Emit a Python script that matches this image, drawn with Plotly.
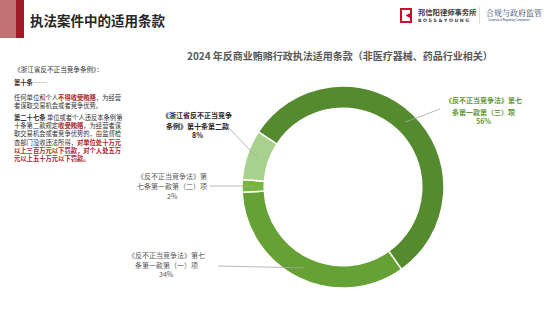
import math
import plotly.graph_objects as go

W, H = 554, 312

# ---------------- data ----------------
labels = [
    "《反不正当竞争法》第七条第一款第（三）项",
    "《反不正当竞争法》第七条第一款第（一）项",
    "《反不正当竞争法》第七条第一款第（二）项",
    "《浙江省反不正当竞争条例》第十条第二款",
]
values = [56, 34, 2, 8]
colors = ["#558B2F", "#65A134", "#76B640", "#A9D18E"]
label_lines = [
    ["《反不正当竞争法》第七", "条第一款第（三）项"],
    ["《反不正当竞争法》第七", "条第一款第（一）项"],
    ["《反不正当竞争法》第", "七条第一款第（二）项"],
    ["《浙江省反不正当竞争", "条例》第十条第二款"],
]
page_title = "执法案件中的适用条款"
chart_title = "2024 年反商业贿赂行政执法适用条款（非医疗器械、药品行业相关）"

FONT = "Noto Sans CJK SC"
RED = "#A81E2C"


def px(x):
    return x / W


def py(y):
    return 1 - y / H


# pie geometry (pixels)
cx, cy, R = 343, 187, 101
hole = 0.78
rotation = 303

fig = go.Figure()
fig.add_trace(go.Pie(
    labels=labels, values=values, sort=False, direction="clockwise",
    rotation=rotation, hole=hole, textinfo="none", hoverinfo="label+percent",
    marker=dict(colors=colors, line=dict(color="white", width=1.5)),
    domain=dict(x=[px(cx - R), px(cx + R)], y=[py(cy + R), py(cy - R)]),
    showlegend=False,
))

annotations = []
shapes = []

# ---------------- leader lines and labels, computed from the data ----------------
total = sum(values)
label_pos = [
    dict(x=483, y=100, ex=440, ey=109, color="#5E9A35", bold=True, dy=[0, 11.5, 21]),
    dict(x=166, y=255, ex=218, ey=266, color="#595959", bold=False, dy=[0, 10, 19.4]),
    dict(x=172, y=176, ex=210, ey=186, color="#595959", bold=False, dy=[0, 10, 20]),
    dict(x=197, y=115, ex=228, ey=127, color="#262626", bold=True, dy=[0, 11, 20.4]),
]
start = rotation
rmid = R * (1 + hole) / 2
for v, lines, lp in zip(values, label_lines, label_pos):
    span = v / total * 360
    mid = math.radians(start + span / 2)
    start += span
    mx = cx + rmid * math.sin(mid)
    my = cy - rmid * math.cos(mid)
    shapes.append(dict(type="line", xref="paper", yref="paper",
                       x0=px(mx), y0=py(my), x1=px(lp["ex"]), y1=py(lp["ey"]),
                       line=dict(color="#A6A6A6", width=0.8)))
    texts = lines + [f"{round(v / total * 100)}%"]
    for t, d in zip(texts, lp["dy"]):
        s = f"<b>{t}</b>" if lp["bold"] else t
        annotations.append(dict(x=px(lp["x"]), y=py(lp["y"] + d), xref="paper", yref="paper",
                                text=s, showarrow=False, xanchor="center", yanchor="middle",
                                font=dict(family=FONT, size=7, color=lp["color"])))

# ---------------- header ----------------
shapes.append(dict(type="rect", xref="paper", yref="paper", x0=0, x1=px(16), y0=py(38), y1=1,
                   fillcolor="#C27272", line=dict(width=0), layer="below"))
shapes.append(dict(type="rect", xref="paper", yref="paper", x0=px(16), x1=px(24), y0=py(38), y1=1,
                   fillcolor="#9E1B27", line=dict(width=0), layer="below"))
annotations.append(dict(x=px(28), y=py(20), xref="paper", yref="paper", text=f"<b>{page_title}</b>",
                        showarrow=False, xanchor="left", yanchor="middle",
                        font=dict(family=FONT, size=13.5, color="#262626")))

# logo
shapes.append(dict(type="rect", xref="paper", yref="paper", x0=px(400), x1=px(412), y0=py(23), y1=py(8),
                   fillcolor="#C8102E", line=dict(width=0)))
shapes.append(dict(type="path", xref="paper", yref="paper",
                   path=f"M {px(402)},{py(10)} L {px(410)},{py(10)} L {px(410)},{py(13)} L {px(405.5)},{py(15.5)} "
                        f"L {px(410)},{py(18)} L {px(410)},{py(21)} L {px(402)},{py(21)} Z",
                   fillcolor="white", line=dict(width=0)))
annotations.append(dict(x=px(416), y=py(12), xref="paper", yref="paper", text="<b>邦信阳律师事务所</b>",
                        showarrow=False, xanchor="left", yanchor="middle",
                        font=dict(family=FONT, size=7.3, color="#3A3A3A")))
annotations.append(dict(x=px(416), y=py(20), xref="paper", yref="paper", text="<b>B O S S & Y O U N G</b>",
                        showarrow=False, xanchor="left", yanchor="middle",
                        font=dict(family="DejaVu Sans", size=4.6, color="#3A3A3A")))
shapes.append(dict(type="line", xref="paper", yref="paper", x0=px(479.5), x1=px(479.5), y0=py(24), y1=py(7),
                   line=dict(color="#C8C8C8", width=0.6)))
annotations.append(dict(x=px(484), y=py(13), xref="paper", yref="paper", text="合规与政府监管",
                        showarrow=False, xanchor="left", yanchor="middle",
                        font=dict(family="Noto Serif CJK SC, Noto Sans CJK SC", size=8, color="#2B3A67")))
annotations.append(dict(x=px(486), y=py(20), xref="paper", yref="paper",
                        text="Corporate & Regulatory Compliance",
                        showarrow=False, xanchor="left", yanchor="middle",
                        font=dict(family="Liberation Sans Narrow, Liberation Sans", size=2.6, color="#2B3A67")))

# chart title
annotations.append(dict(x=px(340), y=py(55), xref="paper", yref="paper", text=f"<b>{chart_title}</b>",
                        showarrow=False, xanchor="center", yanchor="middle",
                        font=dict(family=FONT, size=10, color="#595959")))

# ---------------- left text block ----------------
def red(t):
    return f"<span style='color:{RED}'><b>{t}</b></span>"

left_blocks = [
    (["《浙江省反不正当竞争条例》："], 69, 6.6),
    (["<b>第十条</b> ……"], 83, 6.3),
    (["任何单位和个人" + red("不得收受贿赂") + "，为经营",
      "者谋取交易机会或者竞争优势。"], 97.5, 6.3),
    (["<b>第二十七条</b> 单位或者个人违反本条例第",
      "十条第二款规定" + red("收受贿赂") + "，为经营者谋",
      "取交易机会或者竞争优势的，由监督检",
      "查部门没收违法所得，" + red("对单位处十万元"),
      red("以上三百万元以下罚款，对个人处五万"),
      red("元以上五十万元以下罚款。")], 118, 6.3),
]
for lines, y0, s in left_blocks:
    n = len(lines)
    yc = y0 + (n - 1) * 1.3 * s / 2
    annotations.append(dict(x=px(12), y=py(yc), xref="paper", yref="paper", text="<br>".join(lines),
                            showarrow=False, xanchor="left", yanchor="middle", align="left",
                            font=dict(family=FONT, size=s, color="#333333")))

fig.update_layout(
    width=W, height=H, margin=dict(l=0, r=0, t=0, b=0),
    paper_bgcolor="white", plot_bgcolor="white",
    annotations=annotations, shapes=shapes,
)
fig.write_html("out.html")
